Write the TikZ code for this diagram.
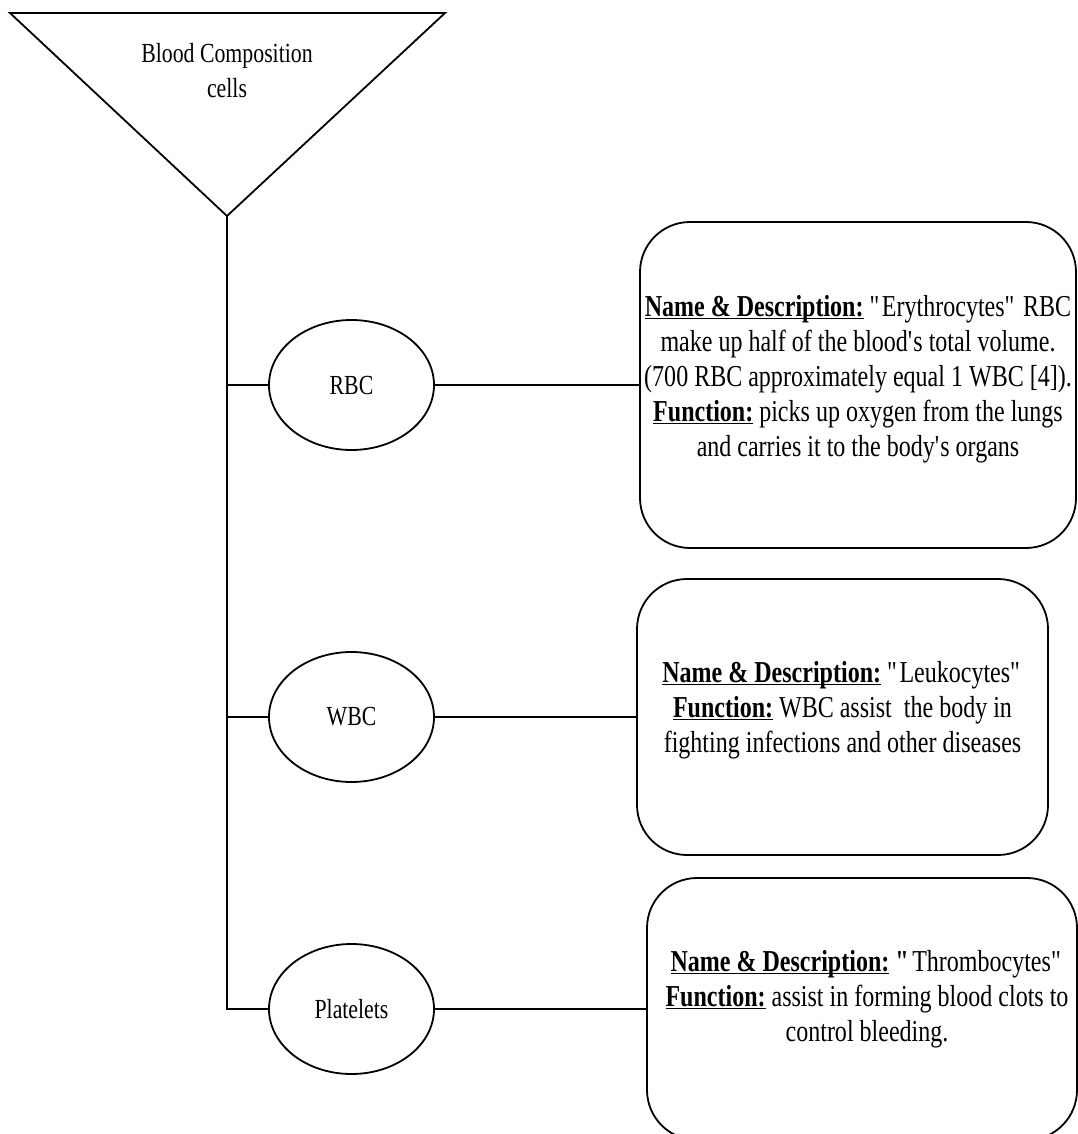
\documentclass[tikz,border=0pt]{standalone}
\usepackage{fontspec}
\setmainfont{Liberation Serif}[FakeStretch=0.79]
\usepackage{tikz}
\usetikzlibrary{shapes.geometric,positioning,calc}
\newcommand{\boxfont}{\fontsize{15.2}{17.5}\selectfont}
\newcommand{\cellfont}{\fontsize{13.8}{17.5}\selectfont}
\newcommand{\hdr}[1]{\setbox0\hbox{\textbf{#1}}\rlap{\textbf{#1}}\rule[-1.6pt]{\wd0}{0.7pt}}
\newcommand{\dq}{\textquotedbl}
\newcommand{\sq}{\textquotesingle}

\begin{document}
\begin{tikzpicture}[x=0.5pt, y=-0.5pt, line width=0.9pt,
    cell/.style={draw, ellipse, minimum width=82.5pt, minimum height=65pt, inner sep=0pt, font=\cellfont},
    infobox/.style={draw, rounded corners=25pt, align=center, inner sep=0pt, font=\boxfont}]
  \useasboundingbox (0,0) rectangle (1077,1134);
  % funnel at the top
  \coordinate (tl) at (10,13);
  \coordinate (tr) at (445,13);
  \coordinate (apex) at (227,216);
  \draw (tl) -- (tr) -- (apex) -- cycle;
  \node[align=center, font=\cellfont] (title) at (227,71) {Blood Composition\\cells};
  % the three cell types
  \node[cell] (rbc) at (351.5,385) {RBC};
  \node[cell] (wbc) at (351.5,717) {WBC};
  \node[cell] (plt) at (351.5,1009) {Platelets};
  % description boxes
  \node[infobox, minimum width=218pt, minimum height=163pt] (rbcinfo) at (858,385) {};
  \node[infobox, minimum width=205.5pt, minimum height=138pt] (wbcinfo) at (842.5,717) {};
  \node[infobox, minimum width=215pt, minimum height=131pt] (pltinfo) at (862,1009) {};
  \node[align=center, font=\boxfont] (rbctext) at (858,379)
    {\hdr{Name \& Description:} \dq Erythrocytes\dq\ RBC\\
     make up half of the blood\sq s total volume.\\
     (700 RBC approximately equal 1 WBC [4]).\\
     \hdr{Function:} picks up oxygen from the lungs\\
     and carries it to the body\sq s organs};
  \node[align=center, font=\boxfont] (wbctext) at (842.5,710)
    {\hdr{Name \& Description:} \dq Leukocytes\dq\\
     \hdr{Function:} WBC assist\ \ the body in\\
     fighting infections and other diseases};
  \node[align=center, font=\boxfont] (plttext) at (867,999)
    {\hdr{Name \& Description:} \textbf{\dq}Thrombocytes\dq\\
     \hdr{Function:} assist in forming blood clots to\\
     control bleeding.};
  % trunk and branches
  \coordinate (j1) at (apex |- rbc);
  \coordinate (j2) at (apex |- wbc);
  \coordinate (j3) at (apex |- plt);
  \draw (apex) -- (j3) -- (plt);
  \draw (j1) -- (rbc);
  \draw (j2) -- (wbc);
  \draw (rbc) -- (rbcinfo);
  \draw (wbc) -- (wbcinfo);
  \draw (plt) -- (pltinfo);
\end{tikzpicture}
\end{document}
